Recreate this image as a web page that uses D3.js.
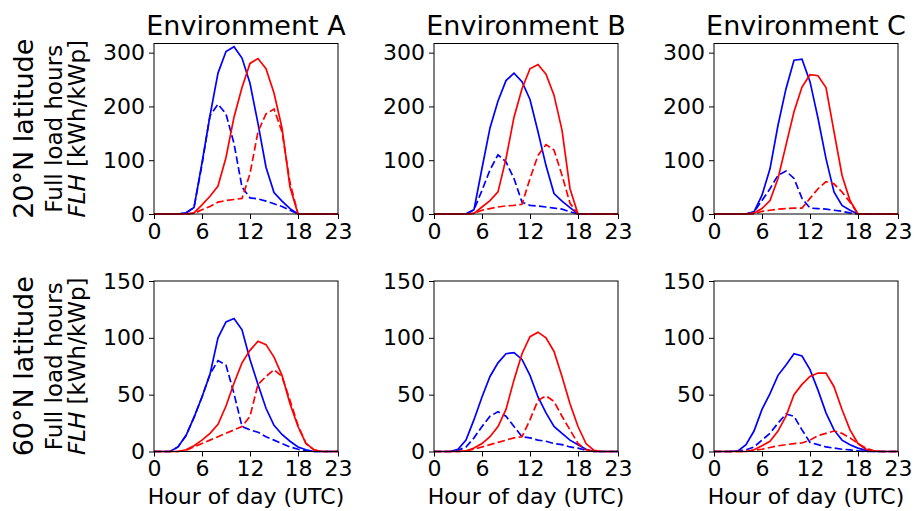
<!DOCTYPE html>
<html>
<head>
<meta charset="utf-8">
<script src="https://cdn.jsdelivr.net/npm/d3@7"></script>
<style>
  body { margin: 0; background: #fff; }
  text { font-family: "DejaVu Sans", sans-serif; fill: #000; }
</style>
</head>
<body>
<svg id="chart" width="917" height="511"></svg>
<script>
// hours 0..23
const hours = [0,1,2,3,4,5,6,7,8,9,10,11,12,13,14,15,16,17,18,19,20,21,22,23];

const environments = ["Environment A", "Environment B", "Environment C"];
const latitudes = ["20°N latitude", "60°N latitude"];
const xTicks = [0, 6, 12, 18, 23];
const yTicksTop = [0, 100, 200, 300];
const yTicksBottom = [0, 50, 100, 150];

// 20°N, environment A
const a20BlueSolid  = [0,0,0,0,2,12,95,183,262,302,311,290,243,168,87,40,24,10,0,0,0,0,0,0];
const a20BlueDashed = [0,0,0,0,2,12,92,183,204,186,131,50,30,28,24,19,14,7,0,0,0,0,0,0];
const a20RedSolid   = [0,0,0,0,0,2,17,33,52,105,180,235,280,289,270,225,160,50,0,0,0,0,0,0];
const a20RedDashed  = [0,0,0,0,0,1,8,14,22,25,27,29,75,153,186,195,153,58,0,0,0,0,0,0];
// 20°N, environment B
const b20BlueSolid  = [0,0,0,0,0,8,85,160,210,248,262,246,213,153,90,38,24,12,0,0,0,0,0,0];
const b20BlueDashed = [0,0,0,0,0,8,44,82,110,97,66,22,16,15,13,11,9,4,0,0,0,0,0,0];
const b20RedSolid   = [0,0,0,0,0,1,13,25,41,103,180,233,270,278,260,221,156,47,0,0,0,0,0,0];
const b20RedDashed  = [0,0,0,0,0,1,7,10,13,15,16,18,66,109,129,119,72,20,0,0,0,0,0,0];
// 20°N, environment C
const c20BlueSolid  = [0,0,0,0,0,4,35,84,165,233,286,288,246,178,103,41,16,7,0,0,0,0,0,0];
const c20BlueDashed = [0,0,0,0,0,4,25,47,72,80,66,29,11,10,9,7,5,2,0,0,0,0,0,0];
const c20RedSolid   = [0,0,0,0,0,2,10,25,66,128,190,236,259,257,235,153,72,25,0,0,0,0,0,0];
const c20RedDashed  = [0,0,0,0,0,0,5,7,9,10,11,11,29,47,60,56,41,22,0,0,0,0,0,0];
// 60°N, environment A
const a60BlueSolid  = [0,0,0,4,14,30,48,68,100,114,117,107,81,59,38,23,15,9,4,1.5,0,0,0,0];
const a60BlueDashed = [0,0,0,4,14,30,48,68,80,76,51,22,19,17,13,10,7,4,2,0.5,0,0,0,0];
const a60RedSolid   = [0,0,0,0,1.5,5,10,16,24,40,60,78,89,97,94,83,67,42,22,7,1.5,0,0,0];
const a60RedDashed  = [0,0,0,0,1,4,7,10,13,16,19,22,31,59,66,72,66,45,23,7,1.5,0,0,0];
// 60°N, environment B
const b60BlueSolid  = [0,0,0,2,10,28,48,66,78,86,87,81,67,48,34,22,16,10,6,2,0,0,0,0];
const b60BlueDashed = [0,0,0,1,4,12,22,31,35,31,22,13,12,10,9,7,6,4,3,1,0,0,0,0];
const b60RedSolid   = [0,0,0,0,0.5,3,7,13,22,37,63,86,101,105,100,88,66,42,22,7,1,0,0,0];
const b60RedDashed  = [0,0,0,0,0.5,2,4,6,8,10,12,13,28,45,49,44,31,19,7,1.5,0,0,0,0];
// 60°N, environment C
const c60BlueSolid  = [0,0,0,0.5,6,18,37,51,67,76,86,84,72,54,34,19,10,6,3,1,0,0,0,0];
const c60BlueDashed = [0,0,0,0.5,1.5,4,10,16,25,33,31,19,8,6,4,3,2,1.5,0.5,0,0,0,0,0];
const c60RedSolid   = [0,0,0,0,0,1.5,5,9,18,31,50,59,66,69,69,57,37,19,7,2,0.5,0,0,0];
const c60RedDashed  = [0,0,0,0,0,1,2,3.5,5,6,7,7.5,10,14,16,18,16,12,7,3,0.5,0,0,0];

const panels = [
  [ [a20BlueSolid, a20BlueDashed, a20RedSolid, a20RedDashed],
    [b20BlueSolid, b20BlueDashed, b20RedSolid, b20RedDashed],
    [c20BlueSolid, c20BlueDashed, c20RedSolid, c20RedDashed] ],
  [ [a60BlueSolid, a60BlueDashed, a60RedSolid, a60RedDashed],
    [b60BlueSolid, b60BlueDashed, b60RedSolid, b60RedDashed],
    [c60BlueSolid, c60BlueDashed, c60RedSolid, c60RedDashed] ]
];
const styles = [
  {color: "#0000ff", dash: null},
  {color: "#0000ff", dash: "7.5,3.3"},
  {color: "#ff0000", dash: null},
  {color: "#ff0000", dash: "7.5,3.3"}
];

const svg = d3.select("#chart");
const colX = [154, 434, 714];
const rowY = [43.5, 281];
const pw = 184, ph = 170.5;
const yMax = [317, 150];
const yTickSets = [yTicksTop, yTicksBottom];

const x = d3.scaleLinear().domain([0, 23]);

panels.forEach(function(row, r) {
  row.forEach(function(series, c) {
    const g = svg.append("g").attr("transform", `translate(${colX[c]},${rowY[r]})`);
    const xs = x.copy().range([0, pw]);
    const ys = d3.scaleLinear().domain([0, yMax[r]]).range([ph, 0]);

    const line = d3.line()
      .x(function(d, i) { return xs(hours[i]); })
      .y(function(d) { return ys(d); });

    series.forEach(function(vals, k) {
      g.append("path")
        .datum(vals)
        .attr("d", line)
        .attr("fill", "none")
        .attr("stroke", styles[k].color)
        .attr("stroke-width", 1.7)
        .attr("stroke-dasharray", styles[k].dash);
    });

    const xa = g.append("g")
      .attr("transform", `translate(0,${ph})`)
      .call(d3.axisBottom(xs).tickValues(xTicks).tickSize(5).tickPadding(4).tickFormat(d3.format("d")));
    const ya = g.append("g")
      .call(d3.axisLeft(ys).tickValues(yTickSets[r]).tickSize(5).tickPadding(4).tickFormat(d3.format("d")));
    [xa, ya].forEach(function(a) {
      a.select(".domain").remove();
      a.selectAll("line").attr("stroke", "#000").attr("stroke-width", 1);
      a.selectAll("text").attr("font-size", 22).attr("font-family", "DejaVu Sans");
    });

    g.append("rect")
      .attr("width", pw).attr("height", ph)
      .attr("fill", "none").attr("stroke", "#000").attr("stroke-width", 1);

    if (r === 0) {
      g.append("text")
        .attr("x", pw / 2).attr("y", -8.5)
        .attr("text-anchor", "middle")
        .attr("font-size", 27)
        .text(environments[c]);
    }
    if (r === 1) {
      g.append("text")
        .attr("x", pw / 2).attr("y", 222.5)
        .attr("text-anchor", "middle")
        .attr("font-size", 22)
        .text("Hour of day (UTC)");
    }
  });

  // row labels on the left
  const cy = rowY[r] + ph / 2;
  svg.append("text")
    .attr("transform", `translate(33,${cy}) rotate(-90)`)
    .attr("text-anchor", "middle")
    .attr("font-size", 27)
    .text(latitudes[r]);
  svg.append("text")
    .attr("transform", `translate(62,${cy}) rotate(-90)`)
    .attr("text-anchor", "middle")
    .attr("font-size", 23)
    .text("Full load hours");
  const l2 = svg.append("text")
    .attr("transform", `translate(85,${cy}) rotate(-90)`)
    .attr("text-anchor", "middle")
    .attr("font-size", 23);
  l2.append("tspan").attr("font-style", "italic").text("FLH");
  l2.append("tspan").text(" [kWh/kWp]");
});
</script>
</body>
</html>
